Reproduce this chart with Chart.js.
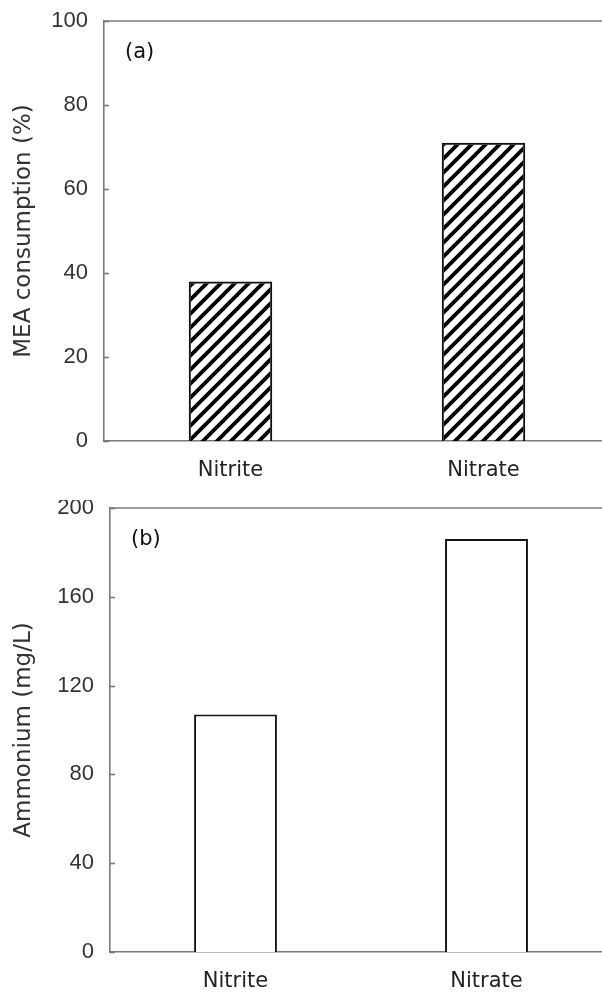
<!DOCTYPE html>
<html>
<head>
<meta charset="utf-8">
<script src="https://cdn.jsdelivr.net/npm/chart.js@4"></script>
<style>
  html, body { margin:0; padding:0; background:#fff; overflow:hidden; width:602px; height:993px; }
  .panel { position:absolute; left:0; }
  #top    { top:0; }
  #bottom { top:500px; }
</style>
</head>
<body>
<div class="panel" id="top"><canvas id="chartA" width="610" height="500"></canvas></div>
<div class="panel" id="bottom"><canvas id="chartB" width="612" height="493"></canvas></div>
<script>
'use strict';

// ── Daten ──
const categories     = ['Nitrite', 'Nitrate'];
const meaConsumption = [38, 71];     // MEA consumption (%)
const ammonium       = [107, 186];   // Ammonium (mg/L)
const ticksA = [0, 20, 40, 60, 80, 100];
const ticksB = [0, 40, 80, 120, 160, 200];

const $ = id => document.getElementById(id);
const FRAME = '#7a7a7a';

// Schraffur-Muster (/ Diagonalen)
function hatch() {
  const c = document.createElement('canvas');
  const n = 14;
  c.width = n; c.height = n;
  const g = c.getContext('2d');
  g.strokeStyle = '#000';
  g.lineWidth = 3.8;
  g.lineCap = 'square';
  [-n, 0, n].forEach(dx => {
    g.beginPath();
    g.moveTo(dx - 2, n + 2);
    g.lineTo(dx + n + 2, -2);
    g.stroke();
  });
  return g.createPattern(c, 'repeat');
}

// Rahmen, innere Ticks und Panel-Beschriftung
const framePlugin = {
  id: 'frame',
  afterDraw(chart, args, opts) {
    const { ctx, chartArea: a, scales } = chart;
    ctx.save();
    ctx.strokeStyle = FRAME;
    ctx.lineWidth = 1.6;
    ctx.beginPath();
    ctx.moveTo(a.left, a.top);
    ctx.lineTo(a.right + 2, a.top);
    ctx.stroke();
    const y = scales.y;
    y.ticks.forEach(t => {
      const py = Math.round(y.getPixelForValue(t.value)) + 0.5;
      ctx.beginPath();
      ctx.moveTo(a.left, py);
      ctx.lineTo(a.left + 5, py);
      ctx.stroke();
    });
    ctx.fillStyle = '#111';
    ctx.font = '21px "DejaVu Sans"';
    ctx.textBaseline = 'middle';
    ctx.textAlign = 'left';
    ctx.fillText(opts.label, a.left + 21, a.top + 32);
    ctx.restore();
  }
};

function makeChart(canvas, values, tickVals, max, title, fill, label, yWidth, xHeight, padTop) {
  return new Chart(canvas, {
    type: 'bar',
    data: {
      labels: categories,
      datasets: [{
        data: values,
        backgroundColor: fill,
        borderColor: '#111',
        borderWidth: 2,
        categoryPercentage: 1,
        barPercentage: 0.33,
      }],
    },
    options: {
      responsive: false,
      animation: false,
      devicePixelRatio: 1,
      layout: { padding: { top: padTop, right: 0, left: 0, bottom: 0 } },
      plugins: {
        legend: { display: false },
        tooltip: { enabled: false },
        frame: { label },
      },
      scales: {
        x: {
          offset: true,
          grid: { display: false, drawTicks: false },
          border: { display: true, color: FRAME, width: 1.6 },
          ticks: { color: '#222', padding: 17, font: { family: 'DejaVu Sans', size: 21 } },
          afterFit: s => { s.height = xHeight; s.paddingLeft = 0; s.paddingRight = 0; },
        },
        y: {
          min: 0, max,
          afterBuildTicks: s => { s.ticks = tickVals.map(v => ({ value: v })); },
          grid: { display: false, drawTicks: false },
          border: { display: true, color: FRAME, width: 1.6 },
          ticks: { color: '#333', padding: 16, font: { family: 'Liberation Sans', size: 22 } },
          title: {
            display: true, text: title, color: '#333',
            padding: { top: 10, bottom: 0 },
            font: { family: 'DejaVu Sans', size: 23 },
          },
          afterFit: s => { s.width = yWidth; s.paddingTop = 0; s.paddingBottom = 0; },
        },
      },
    },
    plugins: [framePlugin],
  });
}

makeChart($('chartA'), meaConsumption, ticksA, 100, 'MEA consumption (%)', hatch(), '(a)', 104, 59, 21);
makeChart($('chartB'), ammonium, ticksB, 200, 'Ammonium (mg/L)', '#fff', '(b)', 110, 41, 8);
</script>
</body>
</html>
